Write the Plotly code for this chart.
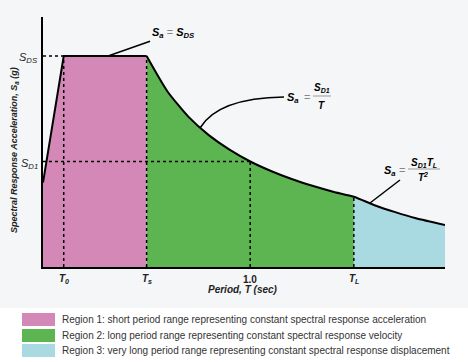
import plotly.graph_objects as go

# ---- data (units: Sa in multiples of S_DS, T in sec) ----
S_DS = 1.0
S_D1 = 0.5
T0 = 0.1
Ts = 0.5
TL = 1.5

region1_T = [0.0, 0.0, 0.1, 0.5, 0.5]
region1_Sa = [0.0, 0.4, 1.0, 1.0, 0.0]

region2_T = [0.5, 0.6, 0.7, 0.8, 0.9, 1.0, 1.1, 1.2, 1.3, 1.4, 1.5]
region2_Sa = [1.0, 0.833, 0.714, 0.625, 0.556, 0.5, 0.455, 0.417, 0.385, 0.357, 0.333]

region3_T = [1.5, 1.6, 1.7, 1.8, 1.94]
region3_Sa = [0.333, 0.293, 0.260, 0.231, 0.199]

tick_vals = [T0, Ts, 1.0, TL]
tick_text = ["<i>T</i><sub><i>0</i></sub>", "<i>T</i><sub><i>s</i></sub>", "1.0", "<i>T</i><sub><i>L</i></sub>"]

legend_labels = [
    "Region 1: short period range representing constant spectral response acceleration",
    "Region 2: long period range representing constant spectral response velocity",
    "Region 3: very long period range representing constant spectral response displacement",
]
colors = ["#D488B8", "#5DB552", "#A9DAE1"]

# ---- layout geometry ----
W, H = 468, 362
L, R, T, B = 43, 23, 17, 95
PW, PH = W - L - R, H - T - B
XMAX = 1.94
YMAX = 1.185
FONT = "Arial, Liberation Sans, sans-serif"


def px(xp):
    return (xp - L) / PW


def py(yp):
    return (H - B - yp) / PH


def pT(xp):
    return (xp - L) / PW * XMAX


def pS(yp):
    return (H - B - yp) / PH * YMAX


fig = go.Figure()


def closed(Tv, Sv):
    return [Tv[0]] + Tv + [Tv[-1]], [0.0] + Sv + [0.0]


x1, y1 = region1_T, region1_Sa
x2, y2 = closed(region2_T, region2_Sa)
x3, y3 = closed(region3_T, region3_Sa)

for xs, ys, c in [(x1, y1, colors[0]), (x2, y2, colors[1]), (x3, y3, colors[2])]:
    fig.add_trace(go.Scatter(x=xs, y=ys, fill="toself", fillcolor=c, mode="none",
                             hoverinfo="skip", showlegend=False))

# outline
fig.add_trace(go.Scatter(x=region1_T[1:4], y=region1_Sa[1:4], mode="lines",
                         line=dict(color="black", width=2), showlegend=False, hoverinfo="skip"))
fig.add_trace(go.Scatter(x=region2_T + region3_T[1:], y=region2_Sa + region3_Sa[1:], mode="lines",
                         line=dict(color="black", width=2, shape="spline", smoothing=0.6),
                         showlegend=False, hoverinfo="skip"))

dot = dict(color="black", width=1.5, dash="dot")
shapes = [
    dict(type="line", xref="x", yref="y", x0=0, x1=T0, y0=S_DS, y1=S_DS, line=dot),
    dict(type="line", xref="x", yref="y", x0=T0, x1=T0, y0=0, y1=S_DS, line=dot),
    dict(type="line", xref="x", yref="y", x0=Ts, x1=Ts, y0=0, y1=S_DS, line=dot),
    dict(type="line", xref="x", yref="y", x0=0, x1=1.0, y0=S_D1, y1=S_D1, line=dot),
    dict(type="line", xref="x", yref="y", x0=1.0, x1=1.0, y0=0, y1=S_D1, line=dot),
    dict(type="line", xref="x", yref="y", x0=TL, x1=TL, y0=0, y1=region3_Sa[0], line=dot),
]

# white legend background
shapes.append(dict(type="rect", xref="paper", yref="paper", x0=px(0), x1=px(W), y0=py(308), y1=py(H),
                   fillcolor="white", line=dict(width=0), layer="below"))

annotations = []
# tick labels
for v, t in zip(tick_vals, tick_text):
    annotations.append(dict(x=v, y=py(279), xref="x", yref="paper", text="<b>" + t + "</b>",
                            showarrow=False, font=dict(family=FONT, size=10, color="#222"),
                            xanchor="center", yanchor="middle"))
# y labels
annotations.append(dict(x=px(40), y=S_DS, xref="paper", yref="y", text="<i>S</i><sub><i>DS</i></sub>",
                        showarrow=False, xanchor="right", yanchor="middle", yshift=-2,
                        font=dict(family=FONT, size=11, color="#222")))
annotations.append(dict(x=px(40), y=S_D1, xref="paper", yref="y", text="<i>S</i><sub><i>D1</i></sub>",
                        showarrow=False, xanchor="right", yanchor="middle", yshift=-2,
                        font=dict(family=FONT, size=11, color="#222")))
# axis titles
annotations.append(dict(x=px(243), y=py(297), xref="paper", yref="paper",
                        text="<b><i>Period, T (sec)</i></b>", showarrow=False,
                        font=dict(family=FONT, size=10, color="#222")))
annotations.append(dict(x=px(14), y=py(150), xref="paper", yref="paper", textangle=-90,
                        xanchor="center", yanchor="middle",
                        text="<b><i>Spectral Response Acceleration, S<sub>a</sub> (g)</i></b>",
                        showarrow=False, font=dict(family=FONT, size=9, color="#222")))

# formula 1
annotations.append(dict(x=0.314, y=S_DS, xref="x", yref="y", ax=65, ay=-23,
                        text="<b><i>S<sub>a</sub></i></b><span style='color:#888'> = </span><b><i>S<sub>DS</sub></i></b>",
                        showarrow=True, arrowhead=0, arrowwidth=1.5, arrowcolor="black",
                        font=dict(family=FONT, size=11, color="black")))


def ftext(xp, yp, text, size=11, color="black"):
    annotations.append(dict(x=px(xp), y=py(yp), xref="paper", yref="paper", text=text,
                            showarrow=False, xanchor="center", yanchor="middle",
                            font=dict(family=FONT, size=size, color=color)))


# formula 2 (Sa = SD1 / T)
ftext(293, 98, "<b><i>S<sub>a</sub></i></b>")
ftext(307, 97, "=", 11, "#888")
ftext(322, 88, "<b><i>S<sub>D1</sub></i></b>", 10)
ftext(321, 105, "<b><i>T</i></b>", 10)
shapes.append(dict(type="line", xref="paper", yref="paper", x0=px(313), x1=px(331), y0=py(96), y1=py(96),
                   line=dict(color="#999", width=1)))
shapes.append(dict(type="path", xref="x", yref="y",
                   path=f"M {pT(200)},{pS(128)} Q {pT(218)},{pS(98)} {pT(284)},{pS(97)}",
                   line=dict(color="black", width=1.5)))

# formula 3 (Sa = SD1 TL / T^2)
ftext(390, 171, "<b><i>S<sub>a</sub></i></b>")
ftext(402, 170, "=", 11, "#888")
ftext(424, 163, "<b><i>S<sub>D1</sub>T<sub>L</sub></i></b>", 10)
ftext(423, 177, "<b><i>T<sup>2</sup></i></b>", 10)
shapes.append(dict(type="line", xref="paper", yref="paper", x0=px(408), x1=px(440), y0=py(169), y1=py(169),
                   line=dict(color="#999", width=1)))
shapes.append(dict(type="line", xref="x", yref="y", x0=pT(370), y0=pS(203), x1=pT(400), y1=pS(180),
                   line=dict(color="black", width=1.5)))

# legend
rows = [(313, 326), (329, 342), (344, 357)]
for (ya, yb), lab, c in zip(rows, legend_labels, colors):
    shapes.append(dict(type="rect", xref="paper", yref="paper", x0=px(22), x1=px(55), y0=py(yb), y1=py(ya),
                       fillcolor=c, line=dict(width=0)))
    annotations.append(dict(x=px(60), y=py((ya + yb) / 2), xref="paper", yref="paper", text=lab,
                            showarrow=False, xanchor="left", yanchor="middle",
                            font=dict(family=FONT, size=10, color="#333")))

fig.update_layout(
    width=W, height=H, margin=dict(l=L, r=R, t=T, b=B),
    paper_bgcolor="#F4F6F7", plot_bgcolor="#F4F6F7",
    xaxis=dict(range=[0, XMAX], showgrid=False, zeroline=False, showticklabels=False, ticks="",
               showline=True, linecolor="black", linewidth=2, fixedrange=True),
    yaxis=dict(range=[0, YMAX], showgrid=False, zeroline=False, showticklabels=False, ticks="",
               showline=True, linecolor="black", linewidth=2, fixedrange=True),
    shapes=shapes, annotations=annotations, showlegend=False,
)

fig.write_html("out.html", config={"displayModeBar": False},
               post_script="document.body.style.margin='0px';document.body.style.overflow='hidden';")
